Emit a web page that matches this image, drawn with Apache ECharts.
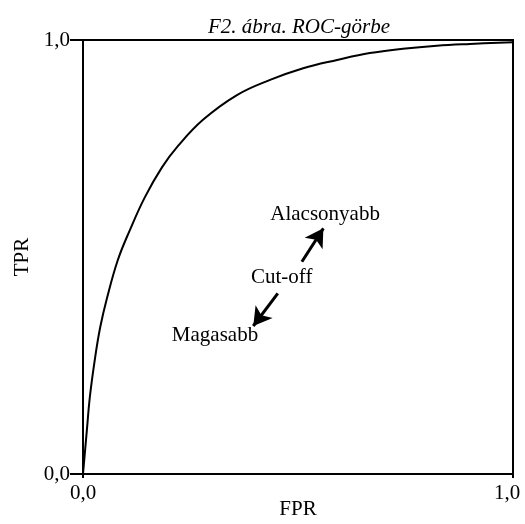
<!DOCTYPE html>
<html>
<head>
<meta charset="utf-8">
<script src="https://cdn.jsdelivr.net/npm/echarts@6/dist/echarts.min.js"></script>
<style>html,body{margin:0;padding:0;background:#fff;}#c{width:525px;height:524px;}</style>
</head>
<body>
<div id="c"></div>
<script>
var titleText = 'F2. ábra. ROC-görbe';
var xName = 'FPR';
var yName = 'TPR';
var fpr = [0, 0.009, 0.016, 0.028, 0.040, 0.056, 0.081, 0.109, 0.144, 0.184, 0.221, 0.279, 0.358, 0.435, 0.512, 0.591, 0.667, 0.744, 0.823, 0.900, 1.0];
var tpr = [0, 0.101, 0.178, 0.267, 0.338, 0.406, 0.493, 0.562, 0.638, 0.707, 0.756, 0.816, 0.873, 0.908, 0.935, 0.954, 0.970, 0.980, 0.987, 0.991, 0.995];
var labelNames = ['Alacsonyabb', 'Cut-off', 'Magasabb'];
var labelX = [0.563, 0.462, 0.307];
var labelY = [0.599, 0.452, 0.320];
var arrowFrom = [[0.509, 0.489], [0.453, 0.416]];
var arrowTo = [[0.559, 0.566], [0.396, 0.341]];

var FONT = '"Liberation Serif", "Times New Roman", serif';
var curve = fpr.map(function (v, i) { return [v, tpr[i]]; });
var labelsData = labelNames.map(function (n, i) { return { name: n, value: [labelX[i], labelY[i]] }; });
var arrowsData = arrowFrom.map(function (f, i) { return [{ coord: f }, { coord: arrowTo[i] }]; });

var chart = echarts.init(document.getElementById('c'), null, { renderer: 'canvas' });
chart.setOption({
  animation: false,
  backgroundColor: '#fff',
  title: {
    text: titleText,
    left: 294,
    textAlign: 'center',
    top: 12,
    textStyle: { fontFamily: FONT, fontStyle: 'italic', fontWeight: 'normal', fontSize: 21, color: '#000' }
  },
  grid: { left: 83, right: 12, top: 40, bottom: 50, outerBoundsMode: 'none', containLabel: false, show: true, borderColor: '#000', borderWidth: 2, backgroundColor: 'transparent' },
  xAxis: {
    type: 'value', min: 0, max: 1, interval: 1,
    name: xName, nameLocation: 'middle', nameGap: 25, nameMoveOverlap: false,
    nameTextStyle: { fontFamily: FONT, fontSize: 21, color: '#000' },
    axisLine: { show: true, lineStyle: { color: '#000', width: 2 } },
    axisTick: { show: true, length: 4, lineStyle: { color: '#000', width: 2 } },
    splitLine: { show: false },
    axisLabel: {
      margin: 9, color: '#000', fontFamily: FONT, fontSize: 21,
      formatter: function (v) { return v === 1 ? '{r|1,0}' : '0,0'; },
      rich: { r: { fontFamily: FONT, fontSize: 21, color: '#000', padding: [0, 12, 0, 0] } }
    }
  },
  yAxis: {
    type: 'value', min: 0, max: 1, interval: 1,
    name: yName, nameLocation: 'middle', nameGap: 50, nameMoveOverlap: false,
    nameTextStyle: { fontFamily: FONT, fontSize: 21, color: '#000' },
    axisLine: { show: true, lineStyle: { color: '#000', width: 2 } },
    axisTick: { show: true, length: 13, lineStyle: { color: '#000', width: 2 } },
    splitLine: { show: false },
    axisLabel: {
      margin: 13, color: '#000', fontFamily: FONT, fontSize: 21,
      formatter: function (v) { return v === 1 ? '1,0' : '0,0'; }
    }
  },
  series: [
    {
      type: 'line', data: curve, smooth: 0.4, showSymbol: false, symbol: 'none',
      lineStyle: { color: '#000', width: 2 }, z: 3
    },
    {
      type: 'scatter', data: labelsData, symbolSize: 0, silent: true,
      itemStyle: { opacity: 1, color: 'rgba(0,0,0,0)' },
      label: {
        show: true, position: 'inside', formatter: '{b}',
        fontFamily: FONT, fontSize: 21, color: '#000'
      },
      markLine: {
        silent: true, symbol: ['none', 'arrow'], symbolSize: [16, 18],
        lineStyle: { color: '#000', width: 3, type: 'solid', opacity: 1 },
        label: { show: false },
        data: arrowsData
      }
    }
  ]
});
</script>
</body>
</html>
